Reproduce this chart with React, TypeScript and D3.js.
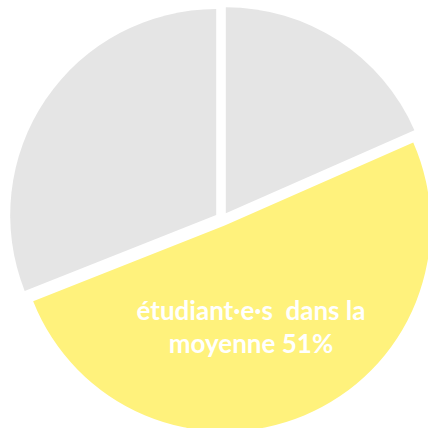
import React from "react";
import * as d3 from "d3";

const W = 428;
const H = 428;

// slices in clockwise order from 12 o'clock
const categories = ["au-dessus", "dans la moyenne", "en dessous"];
const values = [18.4, 50.6, 31.0];
const colors = ["#E5E5E5", "#FFF27C", "#E5E5E5"];
const labelLines = ["étudiant·e·s  dans la", "moyenne 51%"];

const CX = 222;
const CY = 219;
const R = 206;
const EXPLODE = 7;

const App = () => {
  const pie = d3
    .pie<number>()
    .sort(null)
    .value((d) => d);
  const arcs = pie(values);
  const arc = d3.arc<d3.PieArcDatum<number>>().innerRadius(0).outerRadius(R);

  const offset = (a: d3.PieArcDatum<number>) => {
    const mid = (a.startAngle + a.endAngle) / 2;
    return [Math.sin(mid) * EXPLODE, -Math.cos(mid) * EXPLODE];
  };

  return (
    <svg
      width={W}
      height={H}
      style={{ position: "fixed", left: 0, top: 0, background: "#fff" }}
    >
      <g transform={`translate(${CX},${CY})`}>
        {arcs.map((a, i) => {
          const [dx, dy] = offset(a);
          return (
            <path
              key={categories[i]}
              d={arc(a) || ""}
              fill={colors[i]}
              transform={`translate(${dx},${dy})`}
            />
          );
        })}
        <text
          x={29}
          y={101}
          textAnchor="middle"
          fill="#fff"
          fontFamily="Lato, 'Open Sans', sans-serif"
          fontWeight="bold"
          fontSize={26}
          style={{ whiteSpace: "pre" }}
        >
          {labelLines.map((t, i) => (
            <tspan key={i} x={29} dy={i === 0 ? 0 : 33}>
              {t}
            </tspan>
          ))}
        </text>
      </g>
    </svg>
  );
};

export default App;
